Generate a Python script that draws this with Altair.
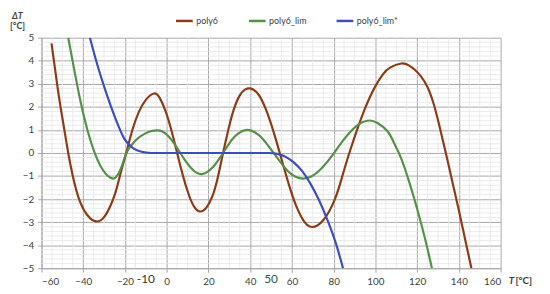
import altair as alt
import pandas as pd

# ---- data ----
series_names = ["poly6", "poly6_lim", "poly6_lim*"]
series_colors = ["#8c3b14", "#559049", "#3c4dbd"]

poly6_x = [-55.2, -52, -49.5, -47.2, -45, -42, -38, -33.7,
           -30, -27, -24.5, -22, -19.4, -16.6, -13.5, -10, -6.1,
           -3.3, -0.6, 2.2, 5, 7.7, 10.5, 13.2, 16,
           19, 22, 24.5, 27, 29.5, 32, 35, 37.5, 40,
           43.7, 47.4, 51.1, 54.8, 58.5, 62.2, 65.9, 69.6,
           75, 80.6, 84, 87.5, 91, 94, 97, 100, 103.5, 107, 112.4,
           116, 119, 122, 125, 128, 131, 134, 137, 140, 143, 146]
poly6_y = [4.75, 2.65, 1.25, 0.0, -1.0, -2.0, -2.7, -2.97,
           -2.78, -2.3, -1.7, -0.85, 0.0, 0.95, 1.75, 2.3, 2.58,
           2.38, 1.83, 1.0, 0.0, -0.96, -1.79, -2.34, -2.54,
           -2.37, -1.85, -1.05, 0.0, 1.0, 1.85, 2.5, 2.75, 2.8,
           2.57, 1.92, 0.95, -0.2, -1.36, -2.33, -2.98, -3.21,
           -2.92, -2.0, -1.05, 0.0, 0.95, 1.7, 2.35, 2.9, 3.4, 3.7, 3.88,
           3.8, 3.6, 3.3, 2.85, 2.1, 1.05, -0.1, -1.3, -2.5, -3.75, -5.0]

lim_x = [-47.2, -44.5, -42, -39.5, -37, -34.5, -32, -29, -27, -25.3,
         -23.5, -21.8, -19.3, -17, -14, -10, -7, -4.2,
         -1.6, 1.05, 3.7, 6.3, 8.9, 11.55, 14.2, 16.8,
         19.5, 22.3, 24.8, 27, 29.5, 32.5, 35.8, 38.9,
         42.2, 45.5, 48.5, 51.2, 54.5, 58, 61.5, 65.5,
         69.5, 73.4, 77.4, 81.35, 85.3, 89.3, 93.2, 97.2,
         101, 105.8, 109, 112.2, 116, 120, 124, 127.1]
lim_y = [5.0, 3.7, 2.54, 1.53, 0.68, 0.0, -0.52, -0.93, -1.07, -1.11,
         -0.95, -0.64, 0.0, 0.33, 0.62, 0.86, 0.96, 0.98,
         0.91, 0.7, 0.39, 0.03, -0.33, -0.64, -0.85, -0.92,
         -0.82, -0.6, -0.3, 0.0, 0.35, 0.7, 0.93, 1.0,
         0.9, 0.66, 0.33, 0.0, -0.4, -0.78, -1.02, -1.11,
         -1.01, -0.74, -0.33, 0.15, 0.63, 1.04, 1.31, 1.41,
         1.3, 0.94, 0.42, -0.2, -1.2, -2.42, -3.8, -5.0]

limstar_x = [-36.8, -33, -29.7, -25, -20.2, -16, -12, -7.7, 0, 10, 20, 30, 40, 49,
             53, 57, 61, 65, 69, 73, 77, 81, 84.5]
limstar_y = [5.0, 3.75, 2.8, 1.6, 0.6, 0.2, 0.05, 0.0, 0.0, 0.0, 0.0, 0.0, 0.0, 0.0,
             -0.04, -0.17, -0.42, -0.8, -1.35, -2.05, -2.9, -3.9, -5.0]

x_major = list(range(-60, 161, 20))
y_major = list(range(-5, 6))
x_minor = [v for v in range(-60, 161, 5) if v % 20 != 0]
y_minor = [round(-5 + 0.2 * i, 1) for i in range(51) if (i % 5) != 0]

annot_x = [-10, 50]
annot_text = ["-10", "50"]

FONT = "Lato"

# ---- build tables ----
rows = []
for name, xs, ys in zip(series_names, [poly6_x, lim_x, limstar_x], [poly6_y, lim_y, limstar_y]):
    for xv, yv in zip(xs, ys):
        rows.append({"T": xv, "dT": yv, "series": name})
df = pd.DataFrame(rows)

xscale = alt.Scale(domain=[-60, 160], nice=False, zero=False)
yscale = alt.Scale(domain=[-5, 5], nice=False, zero=False)

x_axis = alt.Axis(values=x_major, title=None, grid=True, gridColor="#a8a8a8", gridWidth=1,
                  domainColor="#a8a8a8", tickColor="#a8a8a8", tickSize=4, labelPadding=4,
                  labelFont=FONT, labelFontSize=10, labelColor="#404040")
y_axis = alt.Axis(values=y_major, title=None, grid=True, gridColor="#a8a8a8", gridWidth=1,
                  domainColor="#a8a8a8", tickColor="#a8a8a8", tickSize=4, labelPadding=4,
                  labelFont=FONT, labelFontSize=10, labelColor="#404040")

minor_x = alt.Chart(pd.DataFrame({"T": x_minor})).mark_rule(color="#e6e6e6", strokeWidth=0.8).encode(
    x=alt.X("T:Q", scale=xscale, axis=x_axis)
)
minor_y = alt.Chart(pd.DataFrame({"dT": y_minor})).mark_rule(color="#e6e6e6", strokeWidth=0.8).encode(
    y=alt.Y("dT:Q", scale=yscale, axis=y_axis)
)

color_enc = alt.Color("series:N",
                      scale=alt.Scale(domain=series_names, range=series_colors),
                      legend=alt.Legend(title=None, orient="none", direction="horizontal",
                                        legendX=135, legendY=-27, symbolType="stroke",
                                        symbolSize=289, symbolStrokeWidth=2.5, labelOffset=2,
                                        columnPadding=25, labelFont=FONT, labelFontSize=9,
                                        labelColor="#404040"))

base = alt.Chart(df).encode(
    x=alt.X("T:Q", scale=xscale, axis=x_axis),
    y=alt.Y("dT:Q", scale=yscale, axis=y_axis),
    color=color_enc,
)
curves_smooth = base.mark_line(strokeWidth=2.2, interpolate="natural", clip=True).transform_filter(
    alt.FieldOneOfPredicate(field="series", oneOf=series_names[:2])
)
curve_flat = base.mark_line(strokeWidth=2.2, interpolate="monotone", clip=True).transform_filter(
    alt.FieldEqualPredicate(field="series", equal=series_names[2])
)

annot = alt.Chart(pd.DataFrame({"T": annot_x, "t": annot_text, "c": ["#333333", "#1f5c4c"]})).mark_text(
    font=FONT, fontSize=12, baseline="middle", align="center"
).encode(
    x=alt.X("T:Q", scale=xscale, axis=x_axis),
    y=alt.value(245),
    text="t:N",
    color=alt.Color("c:N", scale=None),
)

def label(txt, x, y, align="center", italic=False, size=10):
    return alt.Chart(pd.DataFrame({"t": [txt]})).mark_text(
        font=FONT, fontSize=size, fontWeight="bold", fontStyle="italic" if italic else "normal",
        align=align, baseline="middle", color="#404040"
    ).encode(x=alt.value(x), y=alt.value(y), text="t:N")

titles = (
    label("ΔT", -30, -22, align="left", italic=True, size=9)
    + label("[°C]", -32, -12, align="left", size=9)
    + label("T", 477, 247, italic=True)
    + label("[°C]", 481, 247, align="left")
)

chart = alt.layer(minor_x, minor_y, curves_smooth, curve_flat, annot, titles).properties(
    width=466, height=234,
    autosize=alt.AutoSizeParams(type="none"),
    padding={"left": 34, "top": 28, "right": 42, "bottom": 24},
).configure_view(stroke=None)

chart.save("out.html", embed_options={"renderer": "svg", "actions": False})
